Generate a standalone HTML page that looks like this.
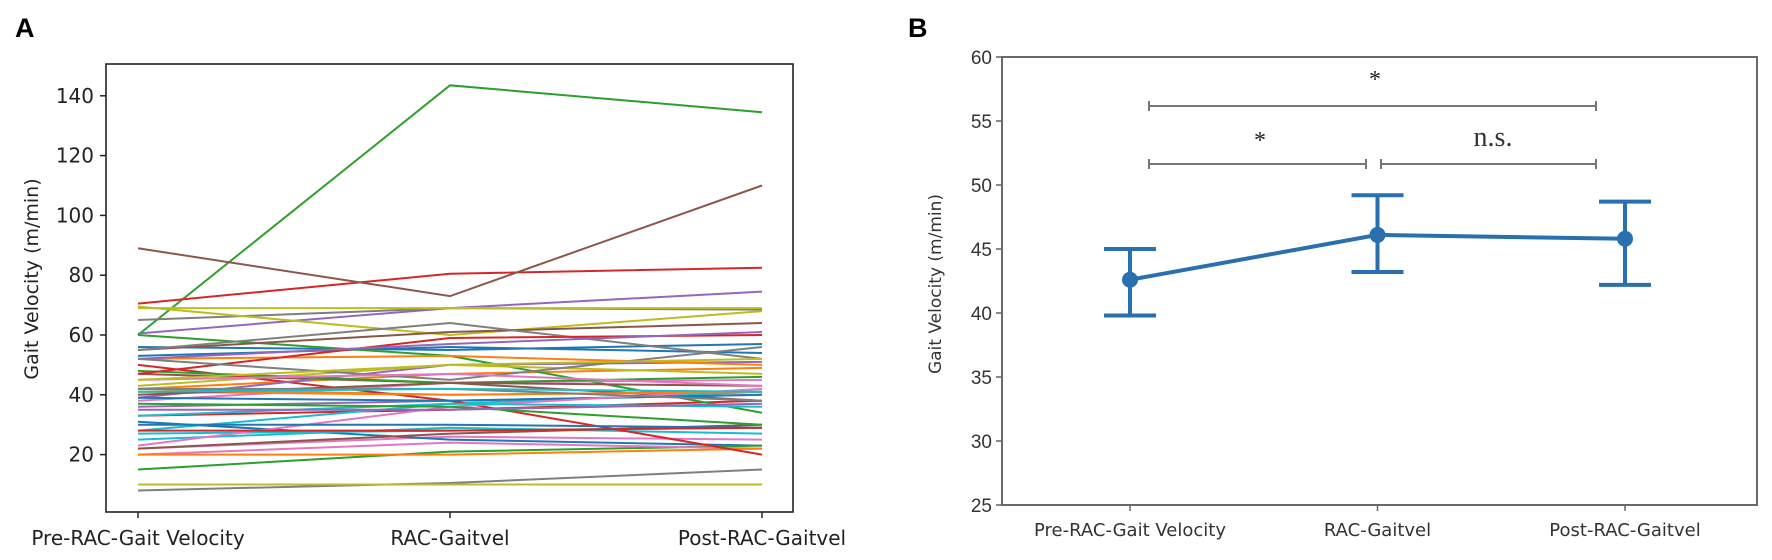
<!DOCTYPE html>
<html><head><meta charset="utf-8"><style>
body{margin:0;background:#fff;}
svg{display:block;font-family:"DejaVu Sans","Liberation Sans",sans-serif;}
</style></head><body>
<svg id="fig" width="1772" height="560" viewBox="0 0 1772 560">
<text x="15" y="37" font-family="Liberation Sans" font-weight="bold" font-size="27">A</text>
<text x="908" y="37" font-family="Liberation Sans" font-weight="bold" font-size="27">B</text>
<g id="pa"></g>
<g id="pb"></g>
</svg>
<script>
const NS="http://www.w3.org/2000/svg";
// ---- Panel A data ----
const catsA=["Pre-RAC-Gait Velocity","RAC-Gaitvel","Post-RAC-Gaitvel"];
const ticksA=[20,40,60,80,100,120,140];
const preA =[56,42,60,70.5,60.5,89,22,65,69.5,25,31,42,15,33,36,47,20,8,10,28,53,20,60,50,39,55,38,55,43,27,39,52,48,47,52,22,23,52,69,33,30,41,37,28,35,40,45,42,45,41];
const racA =[55,47,143.5,80.5,69,73,26,69,60,29,25,40,21,35,38,44,24,10.5,10,37,56,20,53,38,50,61,44,64,50,28,38,53,44,59,57,27,36,45,69,37,30,40,36,28,35,44,47,42,50,42];
const postA=[57,49,134.5,82.5,74.5,110,25,68.5,68,27,23,41,23,38,40,38,22,15,10,41,54,22,34,20,51,64,45,52,47,29,40,50,46,60,61,30,42,56,69,36,29,41,30,29,37,43,43,38,52,41];
const tab=["#1f77b4","#ff7f0e","#2ca02c","#d62728","#9467bd","#8c564b","#e377c2","#7f7f7f","#bcbd22","#17becf"];
// ---- Panel B data ----
const catsB=["Pre-RAC-Gait Velocity","RAC-Gaitvel","Post-RAC-Gaitvel"];
const ticksB=[25,30,35,40,45,50,55,60];
const meanB=[42.6,46.1,45.8];
const lowB=[39.8,43.2,42.2];
const highB=[45.0,49.2,48.7];

function el(tag,attrs,parent,text){const e=document.createElementNS(NS,tag);for(const k in attrs)e.setAttribute(k,attrs[k]);if(text!==undefined)e.textContent=text;parent.appendChild(e);return e;}

// Panel A
(function(){
const g=document.getElementById('pa');
const L=106,R=793,T=64,B=512;
const xA=i=>138+i*312;
const yA=v=>454.6-(v-20)*2.99;
for(let s=0;s<preA.length;s++){
  const vals=[preA[s],racA[s],postA[s]];
  const p=el('polyline',{points:vals.map((v,i)=>xA(i)+','+yA(v)).join(' '),fill:'none',stroke:tab[s%10],'stroke-width':2},g);
  
  
}
const f=el('rect',{x:L,y:T,width:R-L,height:B-T,fill:'none',stroke:'#222','stroke-width':1.6},g);

ticksA.forEach(t=>{
  el('line',{x1:L-6,x2:L,y1:yA(t),y2:yA(t),stroke:'#222','stroke-width':1.5},g);
  const tx=el('text',{x:L-12,y:yA(t)+7,'text-anchor':'end','font-size':20,fill:'#222'},g,String(t));
  
});
catsA.forEach((c,i)=>{
  el('line',{x1:xA(i),x2:xA(i),y1:B,y2:B+6,stroke:'#222','stroke-width':1.5},g);
  const tx=el('text',{x:xA(i),y:545,'text-anchor':'middle','font-size':20,fill:'#222'},g,c);
  
});
const yt=el('text',{x:0,y:0,transform:'translate(38,279) rotate(-90)','text-anchor':'middle','font-size':19,fill:'#222'},g,'Gait Velocity (m/min)');

})();

// Panel B
(function(){
const g=document.getElementById('pb');
const L=1002,R=1757,T=57,B=505;
const xB=i=>1130+i*247.5;
const yB=v=>505-(v-25)*12.8;
const f=el('rect',{x:L,y:T,width:R-L,height:B-T,fill:'none',stroke:'#6a6a6a','stroke-width':2},g);

ticksB.forEach(t=>{
  el('line',{x1:L-6,x2:L,y1:yB(t),y2:yB(t),stroke:'#666','stroke-width':1.5},g);
  const tx=el('text',{x:L-10,y:yB(t)+7,'text-anchor':'end','font-size':19,fill:'#333','font-family':'Liberation Sans Narrow, Liberation Sans, sans-serif'},g,String(t));
  
});
catsB.forEach((c,i)=>{
  el('line',{x1:xB(i),x2:xB(i),y1:B,y2:B+6,stroke:'#666','stroke-width':1.5},g);
  const tx=el('text',{x:xB(i),y:536,'text-anchor':'middle','font-size':18,fill:'#333'},g,c);
  
});
const yt=el('text',{x:0,y:0,transform:'translate(941,284) rotate(-90)','text-anchor':'middle','font-size':17,fill:'#333'},g,'Gait Velocity (m/min)');

const ml=el('polyline',{points:meanB.map((v,i)=>xB(i)+','+yB(v)).join(' '),fill:'none',stroke:'#2a6fb0','stroke-width':4},g);

meanB.forEach((m,i)=>{
  const x=xB(i);
  const eb=el('path',{d:`M${x},${yB(lowB[i])}V${yB(highB[i])}M${x-26},${yB(lowB[i])}H${x+26}M${x-26},${yB(highB[i])}H${x+26}`,stroke:'#2a6fb0','stroke-width':4,fill:'none'},g);
  
  const c=el('circle',{cx:x,cy:yB(m),r:8,fill:'#2a6fb0'},g);
  
});
// significance brackets
const br=(x1,x2,y,name)=>{const p=el('path',{d:`M${x1},${y-5}V${y+5}M${x1},${y}H${x2}M${x2},${y-5}V${y+5}`,stroke:'#777','stroke-width':2,fill:'none'},g);};
br(1149,1596,106,'bracket-pre-post');
br(1149,1366,164,'bracket-pre-rac');
br(1381,1596,164,'bracket-rac-post');
const s1=el('text',{x:1375,y:87,'text-anchor':'middle','font-size':24,fill:'#222','font-family':'Liberation Serif, serif'},g,'*');

const s2=el('text',{x:1260,y:148,'text-anchor':'middle','font-size':24,fill:'#222','font-family':'Liberation Serif, serif'},g,'*');

const ns=el('text',{x:1493,y:146,'text-anchor':'middle','font-size':28,fill:'#333','font-family':'Liberation Serif, serif'},g,'n.s.');

})();
</script>
</body></html>
